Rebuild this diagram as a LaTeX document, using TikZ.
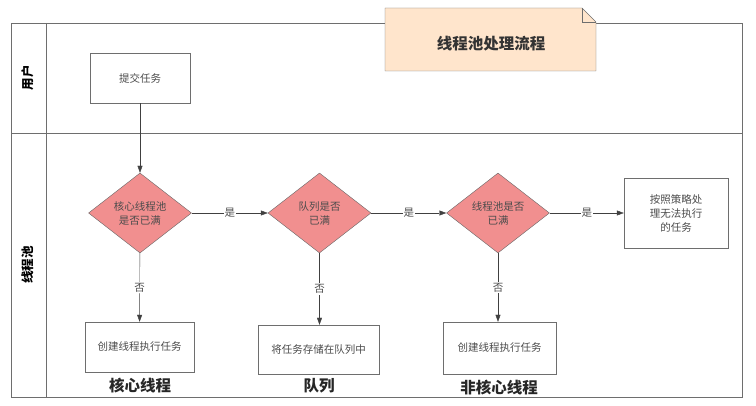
\documentclass[tikz,border=0pt]{standalone}
\usepackage{fontspec}
\newfontfamily\cjk{Noto Sans CJK SC}
\usetikzlibrary{shapes.geometric,arrows.meta}
\definecolor{notefill}{RGB}{255,229,204}
\definecolor{decfill}{RGB}{241,143,143}
\definecolor{framegray}{RGB}{110,110,110}

\begin{document}
\begin{tikzpicture}[x=1pt,y=-1pt,font=\cjk\fontsize{10.5}{14}\selectfont,
	box/.style={draw=framegray,fill=white,align=center,text=black!70},
	decision/.style={diamond,draw=black!60,fill=decfill,minimum width=103pt,minimum height=80pt,inner sep=0pt,align=center,text=black!70},
	flow/.style={draw=black!75,-{Triangle[length=7pt,width=5pt]}},
	lbl/.style={fill=white,inner sep=1pt,text=black!70},
	lanename/.style={rotate=90,font=\cjk\bfseries\fontsize{12.5}{14}\selectfont},
	group/.style={font=\cjk\bfseries\fontsize{15.5}{17}\selectfont,text=black!85}]
	\useasboundingbox (0,0) rectangle (756,406);
	
	% swimlanes
	\draw[framegray] (11,23) rectangle (742,397);
	\draw[framegray] (46,23) -- (46,397);
	\draw[framegray] (11,133) -- (742,133);
	\node[lanename] (laneuser) at (28,78) {用户};
	\node[lanename] (lanepool) at (28,265) {线程池};
	
	% title note
	\draw[framegray,fill=notefill] (385,8) -- (582,8) -- (596,22) -- (596,71) -- (385,71) -- cycle;
	\draw[framegray] (582,8) -- (582,22) -- (596,22);
	\node[font=\cjk\bfseries\fontsize{15.5}{17}\selectfont,text=black!80] (title) at (491,44) {线程池处理流程};
	
	\node[box,minimum width=100pt,minimum height=50pt] (submit) at (140,78) {提交任务};
	
	\node[decision] (core) at (140,213) {核心线程池\\是否已满};
	\node[decision] (queue) at (319.5,213) {队列是否\\已满};
	\node[decision] (pool) at (498,213) {线程池是否\\已满};
	\node[box,minimum width=104pt,minimum height=70pt] (reject) at (676,213) {按照策略处\\理无法执行\\的任务};
	
	\node[box,minimum width=109pt,minimum height=50pt] (newcore) at (139.5,347) {创建线程执行任务};
	\node[box,minimum width=121pt,minimum height=49pt] (store) at (318.5,349.5) {将任务存储在队列中};
	\node[box,minimum width=113pt,minimum height=52pt] (newextra) at (499.5,348) {创建线程执行任务};
	
	\node[group] (gcore) at (140,386) {核心线程};
	\node[group] (gqueue) at (319,386) {队列};
	\node[group] (gextra) at (499,388) {非核心线程};
	
	\draw[flow] (submit) -- (core);
	\draw[flow] (core) -- (queue) node[midway,lbl] {是};
	\draw[flow] (queue) -- (pool) node[midway,lbl] {是};
	\draw[flow] (pool) -- (reject) node[midway,lbl] {是};
	\draw[flow] (core) -- (newcore) node[midway,lbl] {否};
	\draw[flow] (queue.south) -- (store.north -| queue.south) node[midway,lbl] {否};
	\draw[flow] (pool.south) -- (newextra.north -| pool.south) node[midway,lbl] {否};
\end{tikzpicture}
\end{document}
